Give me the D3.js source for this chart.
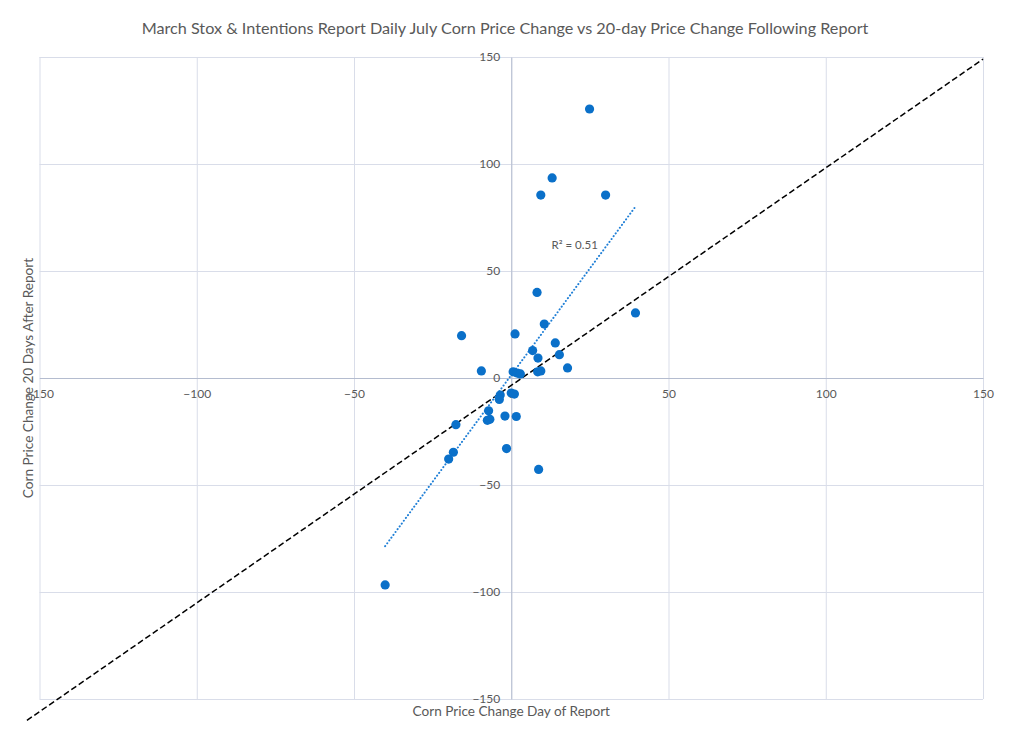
<!DOCTYPE html>
<html lang="en">
<head>
<meta charset="utf-8">
<title>March Stox & Intentions Report</title>
<script src="https://cdn.jsdelivr.net/npm/d3@7/dist/d3.min.js"></script>
<style>
  body { margin: 0; background: #fff; }
  svg text { font-family: Lato, "Open Sans", sans-serif; fill: #595959; }
</style>
</head>
<body>
<script type="text/javascript">

 // day-of-report change (x) vs change 20 days after (y), cents
 var dayChange = [24.9, 13.0, 9.4, 30.0, 8.2, 39.5, 10.5, 1.2, -15.8, 14.0,
                  6.8, 15.3, 8.5, 17.9, -9.5, 8.4, 9.4, 0.6, 1.9, 2.9,
                  0.0, 1.0, -3.5, -3.8, -7.2, -2.0, 1.6, -7.6, -6.8, -17.6,
                  -1.5, -18.4, -19.9, 8.7, -40.1];
 var laterChange = [125.7, 93.5, 85.5, 85.5, 40.0, 30.4, 25.2, 20.6, 19.8, 16.4,
                    12.8, 10.9, 9.3, 4.7, 3.3, 2.9, 3.3, 2.9, 2.3, 1.9,
                    -7.0, -7.5, -8.0, -10.0, -15.3, -17.8, -18.0, -19.8, -19.3, -21.8,
                    -33.0, -34.7, -37.9, -42.7, -96.7];

 // the dashed reference line series
 var refX = [-154, 150];
 var refY = [-160, 149];

 var tickValues = [-150, -100, -50, 0, 50, 100, 150];
 var r2Label = "R\u00b2 = 0.51";
 var chartTitle = "March Stox & Intentions Report Daily July Corn Price Change vs 20-day Price Change Following Report";
 var xTitle = "Corn Price Change Day of Report";
 var yTitle = "Corn Price Change 20 Days After Report";

 var width = 1024, height = 744;
 var plot = {left: 39.5, right: 983, top: 57, bottom: 699};

 var svg = d3.select("body")
             .append("svg")
             .attr("width", width)
             .attr("height", height);

 var xScale = d3.scaleLinear().domain([-150, 150]).range([plot.left, plot.right]);
 var yScale = d3.scaleLinear().domain([-150, 150]).range([plot.bottom, plot.top]);

 var points = dayChange.map(function (d, i) { return {x: d, y: laterChange[i]}; });

 // gridlines
 svg.append("g")
    .attr("transform", "translate(0," + plot.bottom + ")")
    .call(d3.axisBottom(xScale).tickValues(tickValues).tickSize(-(plot.bottom - plot.top)).tickFormat(""))
    .call(function (g) {
        g.select(".domain").remove();
        g.selectAll("line").attr("stroke", "#d9dde9").attr("stroke-width", 1);
    });
 svg.append("g")
    .attr("transform", "translate(" + plot.left + ",0)")
    .call(d3.axisLeft(yScale).tickValues(tickValues).tickSize(-(plot.right - plot.left)).tickFormat(""))
    .call(function (g) {
        g.select(".domain").remove();
        g.selectAll("line").attr("stroke", "#d9dde9").attr("stroke-width", 1);
    });

 // zero axes
 var xAxis = svg.append("g")
    .attr("transform", "translate(0," + yScale(0) + ")")
    .call(d3.axisBottom(xScale).tickValues(tickValues).tickSize(0).tickPadding(11));
 xAxis.select(".domain").attr("stroke", "#b4bccf");
 xAxis.selectAll("text").style("font-size", "12px").attr("fill", "#595959");

 var yAxis = svg.append("g")
    .attr("transform", "translate(" + xScale(0) + ",0)")
    .call(d3.axisLeft(yScale).tickValues(tickValues).tickSize(0).tickPadding(11));
 yAxis.select(".domain").attr("stroke", "#b4bccf");
 yAxis.selectAll("text").style("font-size", "12px").attr("fill", "#595959");

 // dashed reference line
 svg.append("line")
    .attr("x1", xScale(refX[0])).attr("y1", yScale(refY[0]))
    .attr("x2", xScale(refX[1])).attr("y2", yScale(refY[1]))
    .attr("stroke", "#000")
    .attr("stroke-width", 1.5)
    .attr("stroke-dasharray", "6,3");

 // linear trendline from the points
 var mx = d3.mean(points, function (d) { return d.x; });
 var my = d3.mean(points, function (d) { return d.y; });
 var sxy = d3.sum(points, function (d) { return (d.x - mx) * (d.y - my); });
 var sxx = d3.sum(points, function (d) { return (d.x - mx) * (d.x - mx); });
 var slope = sxy / sxx;
 var icpt = my - slope * mx;
 var xExt = d3.extent(points, function (d) { return d.x; });

 svg.append("line")
    .attr("x1", xScale(xExt[0])).attr("y1", yScale(icpt + slope * xExt[0]))
    .attr("x2", xScale(xExt[1])).attr("y2", yScale(icpt + slope * xExt[1]))
    .attr("stroke", "#1f7fd6")
    .attr("stroke-width", 2)
    .attr("stroke-linecap", "round")
    .attr("stroke-dasharray", "0.1,3.4");

 svg.append("text")
    .attr("x", xScale(12.8))
    .attr("y", yScale(62) + 4)
    .style("font-size", "11.5px")
    .text(r2Label);

 // markers
 svg.selectAll("circle.pt")
    .data(points)
    .enter()
    .append("circle")
    .attr("class", "pt")
    .attr("cx", function (d) { return xScale(d.x); })
    .attr("cy", function (d) { return yScale(d.y); })
    .attr("r", 4.6)
    .attr("fill", "#0a70c9");

 // titles
 svg.append("text")
    .attr("x", 505)
    .attr("y", 34)
    .attr("text-anchor", "middle")
    .style("font-size", "16.2px")
    .text(chartTitle);

 svg.append("text")
    .attr("x", xScale(0))
    .attr("y", 716)
    .attr("text-anchor", "middle")
    .style("font-size", "13.6px")
    .text(xTitle);

 svg.append("text")
    .attr("transform", "translate(33," + ((plot.top + plot.bottom) / 2 - 0) + ") rotate(-90)")
    .attr("text-anchor", "middle")
    .style("font-size", "13.6px")
    .text(yTitle);

</script>
</body>
</html>
